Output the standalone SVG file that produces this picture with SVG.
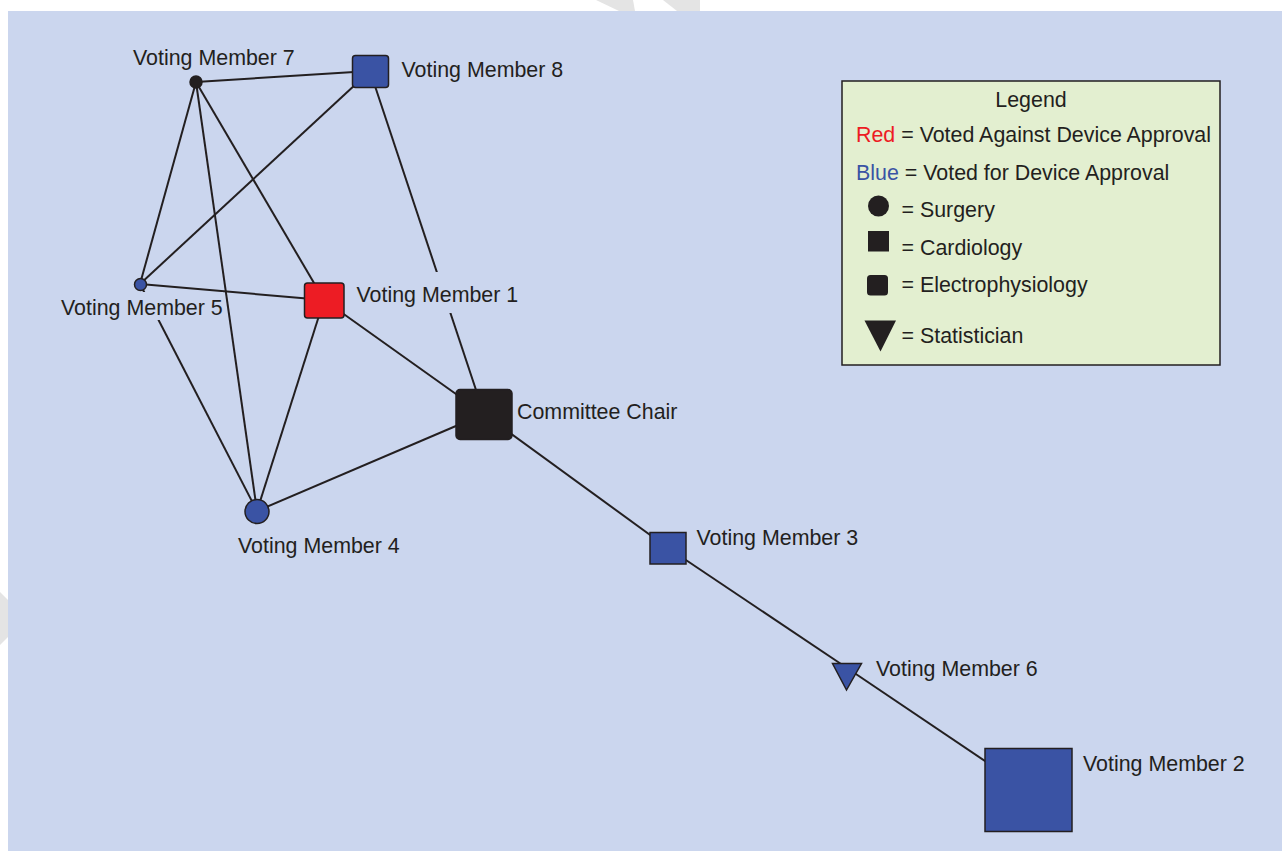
<svg xmlns="http://www.w3.org/2000/svg" width="1282" height="851" viewBox="0 0 1282 851">
<style>
text{font-family:"Liberation Sans",Arial,sans-serif;font-size:21.4px;fill:#231f20}
.edge{stroke:#231f20;stroke-width:2;fill:none}
.blue{fill:#3a53a4;stroke:#231f20;stroke-width:1.5}
.red{fill:#ed1c24;stroke:#231f20;stroke-width:1.5}
.black{fill:#231f20;stroke:#231f20;stroke-width:1.5}
.lbg{fill:#cbd6ee}
</style>
<rect x="0" y="0" width="1282" height="851" fill="#ffffff"/>
<polygon points="596,0 633,0 635,11 619,11" fill="#e4e4e4"/>
<polygon points="663,0 700,0 700,11 677,11" fill="#e4e4e4"/>
<polygon points="0,592 8,600 8,637 0,645" fill="#e4e4e4"/>
<rect x="8" y="11" width="1274" height="840" fill="#cbd6ee"/>
<g id="connectors">
<line class="edge" x1="196" y1="82" x2="370" y2="71"/>
<line class="edge" x1="196" y1="82" x2="140" y2="284"/>
<line class="edge" x1="196" y1="82" x2="257" y2="511"/>
<line class="edge" x1="196" y1="82" x2="324" y2="300"/>
<line class="edge" x1="370" y1="71" x2="140" y2="284"/>
<line class="edge" x1="370" y1="71" x2="484" y2="414"/>
<line class="edge" x1="140" y1="284" x2="324" y2="300"/>
<line class="edge" x1="140" y1="284" x2="257" y2="511"/>
<line class="edge" x1="324" y1="300" x2="484" y2="414"/>
<line class="edge" x1="324" y1="300" x2="257" y2="511"/>
<line class="edge" x1="484" y1="414" x2="257" y2="511"/>
<line class="edge" x1="484" y1="414" x2="668" y2="548"/>
<line class="edge" x1="668" y1="548" x2="847" y2="668"/>
<line class="edge" x1="847" y1="668" x2="1028" y2="790"/>
</g>
<g id="vm7">
<circle class="black" cx="196" cy="82" r="6"/>
<text x="133" y="65">Voting Member 7</text>
</g>
<g id="vm8">
<rect class="blue" x="352.5" y="55.5" width="36" height="32" rx="3"/>
<text x="401.5" y="77">Voting Member 8</text>
</g>
<g id="vm5">
<rect class="lbg" x="57" y="292" width="166" height="28"/>
<circle class="blue" cx="140.5" cy="284.5" r="6"/>
<text x="61" y="315">Voting Member 5</text>
</g>
<g id="vm1">
<rect class="lbg" x="350" y="272" width="172" height="41"/>
<rect class="red" x="304.5" y="283" width="39.5" height="35" rx="3"/>
<text x="356.5" y="302">Voting Member 1</text>
</g>
<g id="chair">
<rect class="black" x="456" y="389.5" width="56" height="50" rx="4"/>
<text x="517" y="419">Committee Chair</text>
</g>
<g id="vm4">
<circle class="blue" cx="257" cy="511.5" r="12"/>
<text x="238" y="553">Voting Member 4</text>
</g>
<g id="vm3">
<rect class="blue" x="650" y="532.5" width="36" height="31.5"/>
<text x="696.5" y="544.5">Voting Member 3</text>
</g>
<g id="vm6">
<polygon class="blue" points="832.5,663.5 861.5,663.5 846.5,690"/>
<text x="876" y="675.5">Voting Member 6</text>
</g>
<g id="vm2">
<rect class="blue" x="985" y="748.5" width="87" height="83"/>
<text x="1083" y="771">Voting Member 2</text>
</g>
<g id="legend">
<rect x="842" y="81" width="378" height="284" fill="#e3efd0" stroke="#231f20" stroke-width="1.5"/>
<text x="1031" y="107" text-anchor="middle">Legend</text>
<text x="856" y="141.5"><tspan style="fill:#ed1c24">Red</tspan> = Voted Against Device Approval</text>
<text x="856" y="180"><tspan style="fill:#3a53a4">Blue</tspan> = Voted for Device Approval</text>
<circle cx="878.5" cy="206" r="10.5" fill="#231f20"/>
<text x="901.5" y="216.5">= Surgery</text>
<rect x="868" y="231" width="21" height="20.5" fill="#231f20"/>
<text x="901.5" y="255">= Cardiology</text>
<rect x="867" y="275" width="21" height="20.5" rx="3.5" fill="#231f20"/>
<text x="901.5" y="291.5">= Electrophysiology</text>
<polygon points="864.5,320.5 896,320.5 880.5,351.5" fill="#231f20"/>
<text x="901.5" y="343">= Statistician</text>
</g>
</svg>
